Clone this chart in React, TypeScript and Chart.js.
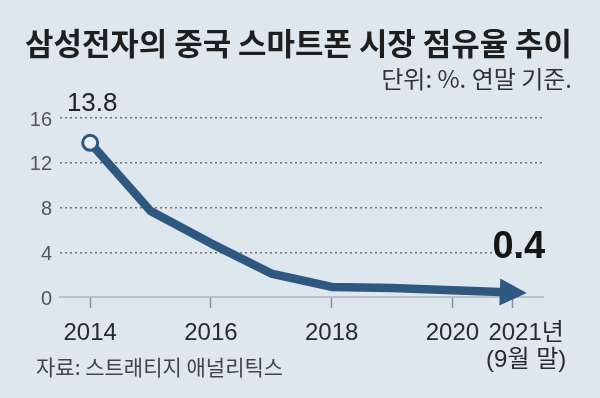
import React, { useEffect, useRef } from "react";
import { Chart, registerables } from "chart.js";

Chart.register(...registerables);

const years = [2014, 2015, 2016, 2017, 2018, 2019, 2020, 2021];
const share = [13.8, 7.7, 4.8, 2.1, 0.9, 0.8, 0.6, 0.4];
const xTickValues = [2014, 2016, 2018, 2020, 2021];
const xTickLabels: (string | string[])[] = ["2014", "2016", "2018", "2020", ["    2021년", "    (9월 말)"]];
const yTickMax = 16;
const yTickStep = 4;
const titleText = "삼성전자의 중국 스마트폰 시장 점유율 추이";
const unitText = "단위: %. 연말 기준.";
const sourceText = "자료: 스트래티지 애널리틱스";

const BG = "#dee6ee";
const LINE = "#2f5880";
const KR = "'Noto Sans CJK KR', sans-serif";
const NUM = "'Liberation Sans', Arial, 'Noto Sans CJK KR', sans-serif";

const arrowPlugin = {
  id: "arrowHead",
  afterDatasetsDraw(chart: any) {
    const meta = chart.getDatasetMeta(0);
    const pts = meta.data;
    if (pts.length < 2) return;
    const a = pts[pts.length - 2];
    const b = pts[pts.length - 1];
    const ang = Math.atan2(b.y - a.y, b.x - a.x);
    const dx = Math.cos(ang), dy = Math.sin(ang);
    const nx = -dy, ny = dx;
    const tipX = b.x + dx * 14, tipY = b.y + dy * 14;
    const bx = b.x - dx * 13, by = b.y - dy * 13;
    const hw = 13.5;
    const ctx = chart.ctx;
    ctx.save();
    ctx.fillStyle = LINE;
    ctx.beginPath();
    ctx.moveTo(tipX, tipY);
    ctx.lineTo(bx + nx * hw, by + ny * hw);
    ctx.lineTo(bx - nx * hw, by - ny * hw);
    ctx.closePath();
    ctx.fill();
    ctx.restore();
  },
};

const labelPlugin = {
  id: "valueLabels",
  afterDraw(chart: any) {
    const ctx = chart.ctx;
    const pts = chart.getDatasetMeta(0).data;
    const first = pts[0];
    const last = pts[pts.length - 1];
    ctx.save();
    ctx.textAlign = "center";
    ctx.textBaseline = "middle";
    ctx.fillStyle = "#222";
    ctx.font = `normal 26px ${NUM}`;
    ctx.fillText(String(share[0]), first.x + 2, first.y - 39);
    ctx.fillStyle = "#151515";
    ctx.font = `bold 38px ${NUM}`;
    ctx.fillText(String(share[share.length - 1]), last.x + 6, last.y - 45);
    // source note
    ctx.textAlign = "left";
    ctx.fillStyle = "#444";
    ctx.font = `normal 21px ${KR}`;
    ctx.fillText(sourceText, 36, 367);
    ctx.restore();
  },
};

export default function App() {
  const ref = useRef<HTMLCanvasElement | null>(null);
  useEffect(() => {
    if (!ref.current) return;
    const chart = new Chart(ref.current, {
      type: "line",
      data: {
        datasets: [
          {
            data: years.map((yr, i) => ({ x: yr, y: share[i] })),
            borderColor: LINE,
            borderWidth: 8.5,
            tension: 0,
            borderJoinStyle: "round",
            pointRadius: share.map((_, i) => (i === 0 ? 7.5 : 0)),
            pointBorderWidth: 3,
            pointBorderColor: LINE,
            pointBackgroundColor: "#e8eef4",
            clip: false,
          } as any,
        ],
      },
      options: {
        animation: false,
        responsive: true,
        maintainAspectRatio: false,
        layout: { padding: { left: 25, right: 28, top: 0, bottom: 12 } },
        plugins: {
          legend: { display: false },
          tooltip: { enabled: false },
          title: {
            display: true,
            text: titleText,
            align: "start",
            color: "#1e1e1e",
            font: { family: KR, size: 31, weight: "bold", lineHeight: 1.2 },
            padding: { top: 25, bottom: 1 },
          },
          subtitle: {
            display: true,
            text: unitText,
            align: "end",
            color: "#333",
            font: { family: KR, size: 24, weight: "normal", lineHeight: 1.2 },
            padding: { top: 1, bottom: 25.2 },
          },
        },
        scales: {
          x: {
            type: "linear",
            min: 2013.5,
            max: 2021.5,
            afterBuildTicks: (s: any) => {
              s.ticks = xTickValues.map((v) => ({ value: v }));
            },
            grid: {
              display: true,
              drawOnChartArea: false,
              drawTicks: true,
              tickLength: 11,
              tickColor: "#8a9198",
              tickWidth: 1.5,
            },
            border: { display: true, color: "#b9c1c9", width: 2 },
            ticks: {
              autoSkip: false,
              maxRotation: 0,
              padding: 12,
              color: "#2a2a2a",
              font: { family: NUM, size: 24, lineHeight: 1.125 },
              callback: (_v: any, i: number) => xTickLabels[i],
            },
          },
          y: {
            type: "linear",
            min: 0,
            max: yTickMax,
            afterFit: (s: any) => {
              s.width = 35;
            },
            grid: {
              drawTicks: false,
              lineWidth: 1.5,
              color: (c: any) => (c.tick && c.tick.value === 0 ? "rgba(0,0,0,0)" : "#6a6f75"),
            },
            border: { display: false, dash: [2, 3] },
            ticks: {
              stepSize: yTickStep,
              padding: 8,
              labelOffset: 2,
              color: "#555",
              font: { family: NUM, size: 20 },
            },
          },
          yRight: {
            type: "linear",
            position: "right",
            display: true,
            afterFit: (s: any) => {
              s.width = 29;
            },
            grid: { display: false },
            border: { display: false },
            ticks: { display: false },
          },
        },
      } as any,
      plugins: [arrowPlugin, labelPlugin],
    });
    return () => chart.destroy();
  }, []);

  return (
    <div
      style={{
        position: "absolute",
        left: 0,
        top: 0,
        width: 600,
        height: 398,
        background: BG,
      }}
    >
      <canvas ref={ref} />
    </div>
  );
}
